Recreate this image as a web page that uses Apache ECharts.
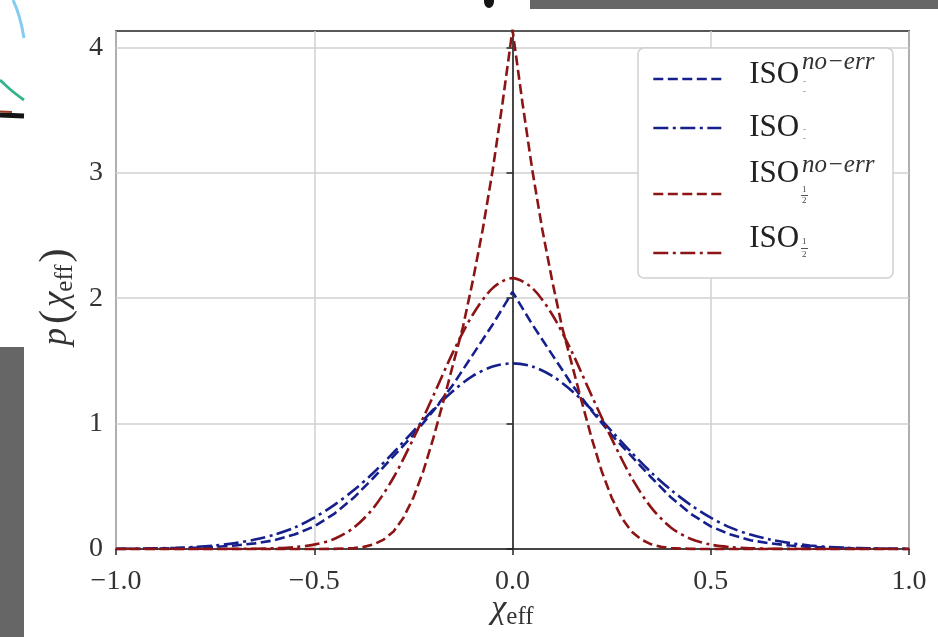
<!DOCTYPE html>
<html><head><meta charset="utf-8">
<script src="https://cdn.jsdelivr.net/npm/echarts@6/dist/echarts.min.js"></script>
<style>html,body{margin:0;padding:0;background:#fff}#c{width:938px;height:637px}</style>
</head><body><div id="c"></div>
<script>
// ---- data ----
const xTicks = [-1.0, -0.5, 0.0, 0.5, 1.0];
const yTicks = [0, 1, 2, 3, 4];
const seriesNames = ['ISO^{no-err}_{-}', 'ISO_{-}', 'ISO^{no-err}_{1/2}', 'ISO_{1/2}'];

const xGrid = [-1.00,-0.95,-0.90,-0.85,-0.80,-0.75,-0.70,-0.65,-0.60,-0.55,-0.50,-0.45,-0.40,-0.35,-0.30,-0.25,-0.20,-0.15,-0.10,-0.05,
  0.00,0.05,0.10,0.15,0.20,0.25,0.30,0.35,0.40,0.45,0.50,0.55,0.60,0.65,0.70,0.75,0.80,0.85,0.90,0.95,1.00];

// blue dashed: ISO^{no-err}_-
const isoMinusNoErr = [0.0005,0.0015,0.003,0.006,0.010,0.017,0.028,0.045,0.070,0.115,0.18,0.28,0.41,0.57,0.74,0.91,1.10,1.31,1.55,1.79,
  2.05,1.79,1.55,1.31,1.10,0.91,0.74,0.57,0.41,0.28,0.18,0.115,0.070,0.045,0.028,0.017,0.010,0.006,0.003,0.0015,0.0005];

// blue dash-dot: ISO_-
const isoMinus = [0.001,0.002,0.005,0.009,0.016,0.028,0.047,0.075,0.115,0.17,0.25,0.35,0.47,0.61,0.77,0.94,1.11,1.26,1.38,1.455,
  1.48,1.455,1.38,1.26,1.11,0.94,0.77,0.61,0.47,0.35,0.25,0.17,0.115,0.075,0.047,0.028,0.016,0.009,0.005,0.002,0.001];

// red dashed: ISO^{no-err}_{1/2}
const xFine = [-1.0,-0.9,-0.8,-0.7,-0.6,-0.5,-0.45,-0.4,-0.375,-0.35,-0.325,-0.3,-0.275,-0.25,-0.225,-0.2,-0.175,-0.15,-0.125,-0.1,-0.075,-0.05,-0.025,
  0.0,0.025,0.05,0.075,0.1,0.125,0.15,0.175,0.2,0.225,0.25,0.275,0.3,0.325,0.35,0.375,0.4,0.45,0.5,0.6,0.7,0.8,0.9,1.0];
const isoHalfNoErr = [0,0,0,0,0,0,0.001,0.007,0.017,0.037,0.075,0.14,0.25,0.41,0.62,0.88,1.17,1.47,1.77,2.14,2.55,3.02,3.56,
  4.14,3.56,3.02,2.55,2.14,1.77,1.47,1.17,0.88,0.62,0.41,0.25,0.14,0.075,0.037,0.017,0.007,0.001,0,0,0,0,0,0];

// red dash-dot: ISO_{1/2}
const isoHalf = [0,0,0,0,0,0,0.001,0.002,0.006,0.015,0.035,0.08,0.17,0.33,0.57,0.88,1.22,1.57,1.87,2.08,
  2.16,2.08,1.87,1.57,1.22,0.88,0.57,0.33,0.17,0.08,0.035,0.015,0.006,0.002,0.001,0,0,0,0,0,0];

// ---- chart ----
const FONT = 'Liberation Serif';
const BLUE = '#16208c', RED = '#8c1414';
const pairs = (xs, ys) => xs.map((x, i) => [x, ys[i]]);

const chart = echarts.init(document.getElementById('c'), null, {renderer: 'canvas'});

// how far the "ISO" text sits above its legend line, per row
const legendShift = [4, 0, 20, 14];
const legendCenter = [79, 128, 194, 253];

const option = {
  animation: false,
  backgroundColor: '#fff',
  grid: {left: 116, right: 29, top: 31, bottom: 88, show: true, borderColor: '#222', borderWidth: 1.6,
    backgroundColor: '#fff', containLabel: false, outerBoundsMode: 'none'},
  xAxis: {
    type: 'value', min: -1, max: 1, interval: 0.5,
    axisLine: {show: true, onZero: false, lineStyle: {color: '#222', width: 1.6}},
    axisTick: {show: true, inside: false, length: 6, lineStyle: {color: '#222', width: 1.5}},
    splitLine: {show: true, lineStyle: {color: '#d0d0d0', width: 1.5}},
    axisLabel: {margin: 19, fontFamily: FONT, fontSize: 28, color: '#333',
      formatter: v => (v < 0 ? '\u2212' : '') + Math.abs(v).toFixed(1)},
    name: '{c|\u03c7}{s|eff}', nameLocation: 'middle', nameGap: 40, nameMoveOverlap: false,
    nameTextStyle: {rich: {
      c: {fontFamily: FONT, fontStyle: 'italic', fontSize: 34, color: '#333'},
      s: {fontFamily: FONT, fontSize: 25, color: '#333', padding: [16, 0, 0, 0]}
    }}
  },
  yAxis: {
    type: 'value', min: 0, max: 4.13, interval: 1,
    axisLine: {show: true, lineStyle: {color: '#222', width: 1.6}},
    axisTick: {show: true, inside: false, length: 6, lineStyle: {color: '#222', width: 1.5}, customValues: yTicks},
    splitLine: {show: true, lineStyle: {color: '#d0d0d0', width: 1.5}},
    axisLabel: {margin: 13, fontFamily: FONT, fontSize: 28, color: '#333', padding: [11, 0, 0, 0],
      customValues: yTicks, formatter: v => String(Math.round(v))},
    name: '{p|p}{b|(}{c|\u03c7}{s|eff}{b|)}', nameLocation: 'middle', nameGap: 38, nameMoveOverlap: false,
    nameTextStyle: {padding: [0, 14, 0, 0], rich: {
      p: {fontFamily: FONT, fontStyle: 'italic', fontSize: 35, color: '#333', padding: [0, 4, 0, 0]},
      b: {fontFamily: FONT, fontSize: 42, color: '#333'},
      c: {fontFamily: FONT, fontStyle: 'italic', fontSize: 35, color: '#333', padding: [0, 0, 0, 3]},
      s: {fontFamily: FONT, fontSize: 25, color: '#333', padding: [18, 2, 0, 0]}
    }}
  },
  legend: seriesNames.map((n, i) => ({
    data: [n], left: 652, top: legendCenter[i] - 15.5 - legendShift[i], padding: 0,
    itemWidth: 68, itemHeight: 14, selectedMode: false, z: 6,
    formatter: () => legendShift[i] > 0 ? '{a|ISO}\n{g|\u00a0}' : '{a|ISO}',
    lineStyle: {width: 2.6},
    itemStyle: {opacity: 0},
    textStyle: {fontFamily: FONT, fontSize: 31, color: '#222', padding: [0, 0, 0, 23],
      rich: {
        a: {fontFamily: FONT, fontSize: 31, color: '#222', lineHeight: 31},
        g: {fontSize: 2, lineHeight: 2 * legendShift[i]}
      }}
  })),
  series: [
    {name: seriesNames[0], type: 'line', data: pairs(xGrid, isoMinusNoErr), symbol: 'none', smooth: false,
      lineStyle: {color: BLUE, width: 2.6, type: [10, 4.5]}, itemStyle: {color: BLUE}, z: 3},
    {name: seriesNames[1], type: 'line', data: pairs(xGrid, isoMinus), symbol: 'none', smooth: 0.3,
      lineStyle: {color: BLUE, width: 2.6, type: [15, 4.5, 3, 4.5]}, itemStyle: {color: BLUE}, z: 3},
    {name: seriesNames[2], type: 'line', data: pairs(xFine, isoHalfNoErr), symbol: 'none', smooth: false, clip: false,
      lineStyle: {color: RED, width: 2.6, type: [10, 4.5]}, itemStyle: {color: RED}, z: 3},
    {name: seriesNames[3], type: 'line', data: pairs(xGrid, isoHalf), symbol: 'none', smooth: 0.3,
      lineStyle: {color: RED, width: 2.6, type: [15, 4.5, 3, 4.5]}, itemStyle: {color: RED}, z: 3}
  ],
  graphic: [
    // legend frame
    {type: 'rect', z: 5, shape: {x: 638, y: 48, width: 255, height: 230, r: 6},
      style: {fill: '#ffffff', stroke: '#cfcfcf', lineWidth: 1.5}},
    // superscripts / subscripts in legend
    {type: 'text', z: 7, style: {x: 802, y: 62, text: 'no\u2212err', font: 'italic 25px "Liberation Serif"', fill: '#333', verticalAlign: 'middle'}},
    {type: 'text', z: 7, style: {x: 803, y: 82, text: '-', font: '9px "Liberation Serif"', fill: '#777', verticalAlign: 'middle'}},
    {type: 'text', z: 7, style: {x: 803, y: 92, text: '-', font: '9px "Liberation Serif"', fill: '#777', verticalAlign: 'middle'}},
    {type: 'text', z: 7, style: {x: 803, y: 130, text: '-', font: '9px "Liberation Serif"', fill: '#777', verticalAlign: 'middle'}},
    {type: 'text', z: 7, style: {x: 803, y: 139, text: '-', font: '9px "Liberation Serif"', fill: '#777', verticalAlign: 'middle'}},
    {type: 'text', z: 7, style: {x: 802, y: 165, text: 'no\u2212err', font: 'italic 25px "Liberation Serif"', fill: '#333', verticalAlign: 'middle'}},
    {type: 'text', z: 7, style: {x: 802, y: 190, text: '1', font: '9px "Liberation Serif"', fill: '#444', verticalAlign: 'middle'}},
    {type: 'line', z: 7, shape: {x1: 801, y1: 195.5, x2: 808, y2: 195.5}, style: {stroke: '#555', lineWidth: 1}},
    {type: 'text', z: 7, style: {x: 802, y: 201, text: '2', font: '9px "Liberation Serif"', fill: '#444', verticalAlign: 'middle'}},
    {type: 'text', z: 7, style: {x: 802, y: 242, text: '1', font: '9px "Liberation Serif"', fill: '#444', verticalAlign: 'middle'}},
    {type: 'line', z: 7, shape: {x1: 801, y1: 248.5, x2: 808, y2: 248.5}, style: {stroke: '#555', lineWidth: 1}},
    {type: 'text', z: 7, style: {x: 802, y: 255, text: '2', font: '9px "Liberation Serif"', fill: '#444', verticalAlign: 'middle'}},
    // photo-crop artefacts around the figure
    {type: 'rect', z: 10, shape: {x: 530, y: 0, width: 408, height: 9}, style: {fill: '#666666'}},
    {type: 'rect', z: 10, shape: {x: 0, y: 347, width: 24, height: 290}, style: {fill: '#666666'}},
    {type: 'ellipse', z: 10, shape: {cx: 489, cy: 1, rx: 5, ry: 7}, style: {fill: '#151515'}},
    {type: 'bezierCurve', z: 10, shape: {x1: 13, y1: 0, x2: 24, y2: 38, cpx1: 20, cpy1: 14}, style: {stroke: '#86ccf2', lineWidth: 3, fill: null}},
    {type: 'bezierCurve', z: 10, shape: {x1: 0, y1: 80, x2: 24, y2: 100, cpx1: 12, cpy1: 92}, style: {stroke: '#34b48e', lineWidth: 3, fill: null}},
    {type: 'line', z: 10, shape: {x1: 0, y1: 115, x2: 24, y2: 116}, style: {stroke: '#141414', lineWidth: 5}},
    {type: 'line', z: 10, shape: {x1: 0, y1: 111.5, x2: 12, y2: 112}, style: {stroke: '#9a3a26', lineWidth: 2}}
  ]
};
chart.setOption(option);
</script>
</body></html>
